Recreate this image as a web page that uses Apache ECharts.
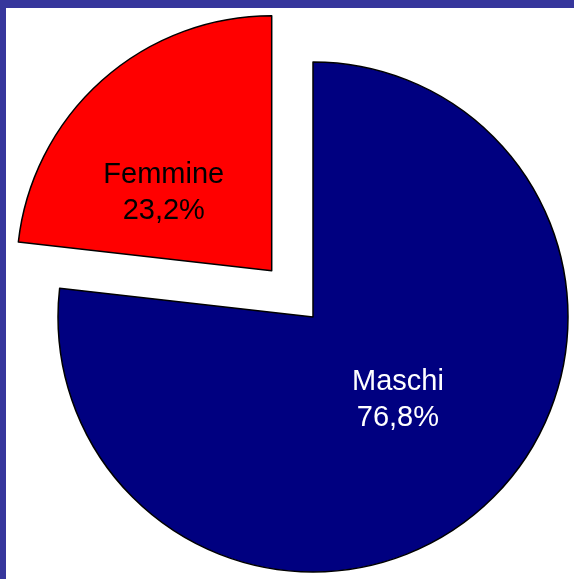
<!DOCTYPE html>
<html>
<head>
<meta charset="utf-8">
<script src="https://cdn.jsdelivr.net/npm/echarts@6/dist/echarts.min.js"></script>
<style>
  html, body { margin: 0; padding: 0; }
  body { width: 574px; height: 579px; background: #36369c; position: relative; overflow: hidden; }
  /* area bianca del grafico, cornice blu a sinistra e in alto */
  #chart { position: absolute; left: 6px; top: 8px; width: 568px; height: 571px; background: #ffffff; }
</style>
</head>
<body>
<div id="chart"></div>
<script>
// dati del grafico
const categories = ['Maschi', 'Femmine'];
const values = [76.8, 23.2];
const sliceColors = ['#000080', '#ff0000'];
const labelColors = ['#ffffff', '#000000'];
const exploded = [false, true];
// spostamento etichette rispetto alla posizione interna standard
const labelOffsets = [[-2, -14], [-21, 20]];

const chart = echarts.init(document.getElementById('chart'));

const pieData = categories.map((name, i) => ({
  name: name,
  value: values[i],
  selected: exploded[i],
  itemStyle: { color: sliceColors[i] },
  label: { color: labelColors[i], offset: labelOffsets[i] },
  select: { label: { color: labelColors[i], offset: labelOffsets[i] } }
}));

chart.setOption({
  animation: false,
  series: [{
    type: 'pie',
    center: [307, 309],
    radius: 255,
    startAngle: 90,
    clockwise: true,
    selectedMode: 'multiple',
    selectedOffset: 62,
    avoidLabelOverlap: false,
    data: pieData,
    itemStyle: { borderColor: '#000000', borderWidth: 1.5 },
    label: {
      show: true,
      position: 'inner',
      fontFamily: 'Liberation Sans, Arial, sans-serif',
      fontSize: 29,
      lineHeight: 36,
      align: 'center',
      formatter: p => p.name + '\n' + p.value.toFixed(1).replace('.', ',') + '%'
    },
    labelLine: { show: false },
    emphasis: { disabled: true },
    select: { itemStyle: { borderColor: '#000000', borderWidth: 1.5 } }
  }]
});
</script>
</body>
</html>
